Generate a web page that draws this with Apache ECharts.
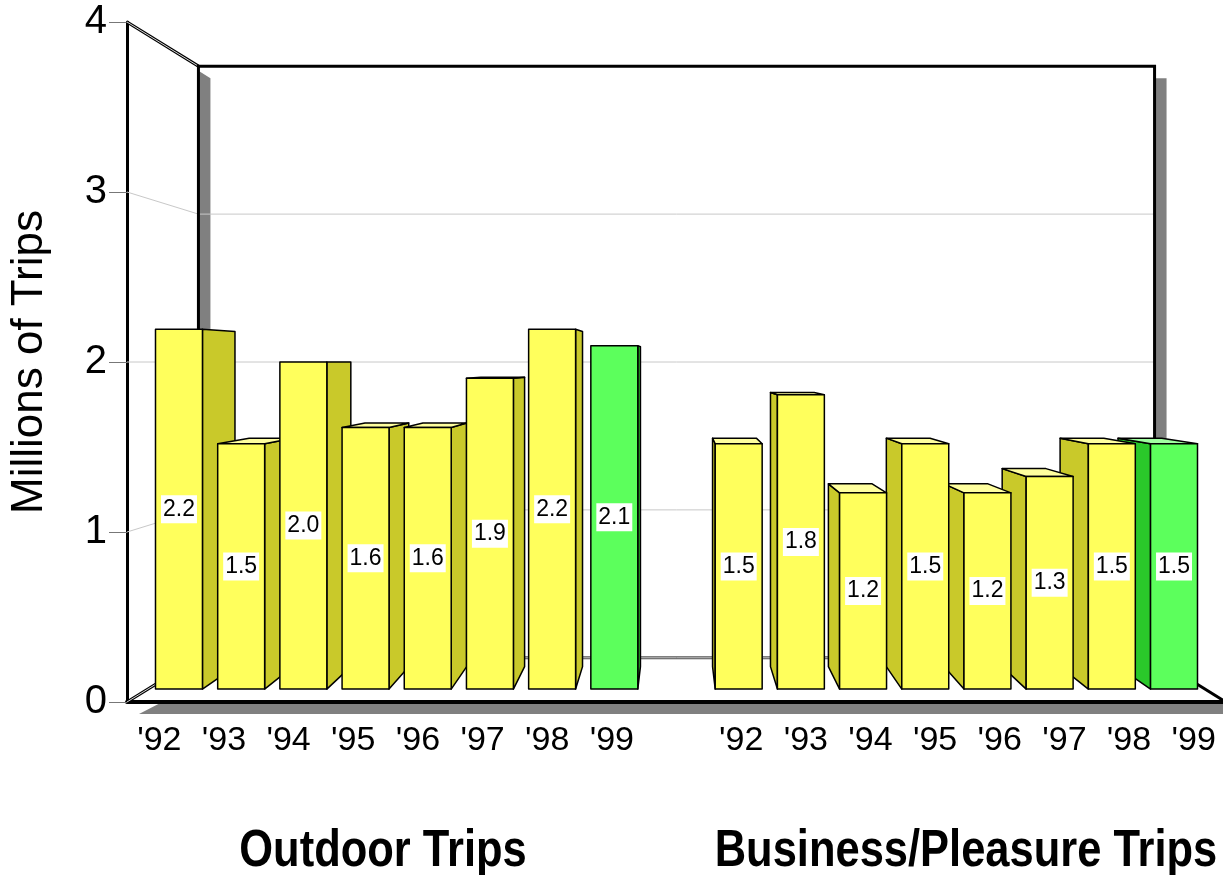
<!DOCTYPE html>
<html>
<head>
<meta charset="utf-8">
<script src="https://cdn.jsdelivr.net/npm/echarts@6/dist/echarts.min.js"></script>
<style>
  html, body { margin: 0; padding: 0; background: #ffffff; }
  #chart { width: 1223px; height: 875px; }
</style>
</head>
<body>
<div id="chart"></div>
<script>
// Years shown under each group of bars
const outdoorYears = ["'92", "'93", "'94", "'95", "'96", "'97", "'98", "'99"];
const businessYears = ["'92", "'93", "'94", "'95", "'96", "'97", "'98", "'99"];
// Trips, in millions
const outdoorTrips = [2.2, 1.5, 2.0, 1.6, 1.6, 1.9, 2.2, 2.1];
const businessTrips = [1.5, 1.8, 1.2, 1.5, 1.2, 1.3, 1.5, 1.5];
// Value axis ticks
const yTicks = [0, 1, 2, 3, 4];
// Year drawn in the highlight colour
const highlightYear = "'99";
const groupTitles = ['Outdoor Trips', 'Business/Pleasure Trips'];

// One empty slot separates the two groups
const categories = outdoorYears.concat([''], businessYears);
const businessOffset = outdoorYears.length + 1;

const barData = [];
outdoorYears.forEach((yr, i) => barData.push([i, outdoorTrips[i], yr === highlightYear ? 1 : 0]));
businessYears.forEach((yr, i) => barData.push([businessOffset + i, businessTrips[i], yr === highlightYear ? 1 : 0]));
// paint bars farthest from the centre first so nearer ones overlap their sides
const mid = (categories.length - 1) / 2;
barData.sort((a, b) => Math.abs(b[0] - mid) - Math.abs(a[0] - mid));

// depth of each plane, as a scale toward the vanishing point
const S_BAR_FRONT = 0.962;
const S_BAR_BACK = 0.896;
const S_WALL = 0.87;
const BAR_FRAC = 0.755;
const SHADOW = 12;

const palette = {
  0: { front: '#FFFF5C', side: '#C9C92A', top: '#FFFF9E' },
  1: { front: '#5CFF5C', side: '#2AC82A', top: '#A0FFA0' }
};

function vanishing(cs) {
  return [cs.x + cs.width / 2, cs.y + cs.height / 2];
}
function project(vp, X, Y, s) {
  return [vp[0] + s * (X - vp[0]), vp[1] + s * (Y - vp[1])];
}

function renderFrame(params, api) {
  const cs = params.coordSys;
  const vp = vanishing(cs);
  const FL = cs.x, FR = cs.x + cs.width, FT = cs.y, FB = cs.y + cs.height;
  const bTL = project(vp, FL, FT, S_WALL), bTR = project(vp, FR, FT, S_WALL);
  const bBL = project(vp, FL, FB, S_WALL), bBR = project(vp, FR, FB, S_WALL);
  const o = SHADOW;
  const kids = [];
  const gray = { fill: '#808080' };

  // drop shadows of the box
  const tL = (bTL[0] - FL - o) / (bTL[0] - FL);
  const yLeft = FT + o + tL * (bTL[1] - FT);
  kids.push({ type: 'polygon', shape: { points: [[bTL[0], yLeft], [bTL[0] + o, bTL[1] + o], [bTL[0] + o, bBL[1]], [bTL[0], bBL[1]]] }, style: gray });
  const yRight = bBR[1] + o * (FB - bBR[1]) / (FR - bBR[0]);
  kids.push({ type: 'polygon', shape: { points: [[bTR[0], bTR[1] + o], [bTR[0] + o, bTR[1] + o], [bTR[0] + o, yRight], [bTR[0], bBR[1]]] }, style: gray });
  const xBottom = FL + o + (o / (FB - bBL[1])) * (bBL[0] - FL);
  kids.push({ type: 'polygon', shape: { points: [[xBottom, FB + 2], [FR + o, FB + 2], [FR + o, FB + o], [FL + o, FB + o]] }, style: gray });

  // grid lines on the side and back walls
  yTicks.slice(1, -1).forEach(v => {
    const Y = api.coord([0, v])[1];
    const b0 = project(vp, FL, Y, S_WALL), b1 = project(vp, FR, Y, S_WALL);
    kids.push({ type: 'polyline', shape: { points: [[FL, Y], b0, b1] }, style: { stroke: '#c8c8c8', lineWidth: 1, fill: null } });
  });

  // floor back edge
  kids.push({ type: 'line', shape: { x1: bBL[0], y1: bBL[1], x2: bBR[0], y2: bBR[1] }, style: { stroke: '#555', lineWidth: 3 } });
  kids.push({ type: 'line', shape: { x1: bBL[0], y1: bBL[1], x2: bBR[0], y2: bBR[1] }, style: { stroke: '#c4c4c4', lineWidth: 1 } });
  // side wall edges (double lines)
  [[FL, FT, bTL], [FL, FB, bBL]].forEach(([x, y, b]) => {
    kids.push({ type: 'line', shape: { x1: x, y1: y, x2: b[0], y2: b[1] }, style: { stroke: '#000', lineWidth: 3.2 } });
    kids.push({ type: 'line', shape: { x1: x, y1: y, x2: b[0], y2: b[1] }, style: { stroke: '#d8d8d8', lineWidth: 1 } });
  });
  // back wall outline and floor right edge
  kids.push({ type: 'polyline', shape: { points: [bBL, bTL, bTR, bBR] }, style: { stroke: '#000', lineWidth: 3, fill: null } });
  kids.push({ type: 'line', shape: { x1: bBR[0], y1: bBR[1], x2: FR, y2: FB }, style: { stroke: '#000', lineWidth: 3 } });

  return { type: 'group', children: kids };
}

function renderBar(params, api) {
  const cs = params.coordSys;
  const vp = vanishing(cs);
  const c = api.value(0), v = api.value(1), hi = api.value(2);
  const col = palette[hi];
  const base = api.coord([c, 0]);
  const top = api.coord([c, v]);
  const bw = api.size([1, 0])[0] * BAR_FRAC;
  const xl = base[0] - bw / 2, xr = base[0] + bw / 2;
  const P = (X, Y, s) => project(vp, X, Y, s);
  const fTL = P(xl, top[1], S_BAR_FRONT), fTR = P(xr, top[1], S_BAR_FRONT);
  const fBL = P(xl, base[1], S_BAR_FRONT), fBR = P(xr, base[1], S_BAR_FRONT);
  const bTL = P(xl, top[1], S_BAR_BACK), bTR = P(xr, top[1], S_BAR_BACK);
  const bBL = P(xl, base[1], S_BAR_BACK), bBR = P(xr, base[1], S_BAR_BACK);
  const edge = { stroke: '#000', lineWidth: 1.5, lineJoin: 'round' };
  const kids = [];
  const side = base[0] < vp[0] ? [fTR, bTR, bBR, fBR] : [fTL, bTL, bBL, fBL];
  kids.push({ type: 'polygon', shape: { points: side }, style: Object.assign({ fill: col.side }, edge) });
  if (top[1] > vp[1]) {
    kids.push({ type: 'polygon', shape: { points: [fTL, fTR, bTR, bTL] }, style: Object.assign({ fill: col.top }, edge) });
  }
  kids.push({ type: 'polygon', shape: { points: [fTL, fTR, fBR, fBL] }, style: Object.assign({ fill: col.front }, edge) });
  kids.push({
    type: 'text',
    style: {
      text: v.toFixed(1),
      x: (fTL[0] + fTR[0]) / 2,
      y: (fTL[1] + fBL[1]) / 2,
      align: 'center',
      verticalAlign: 'middle',
      font: '23px "Liberation Sans", Arial, sans-serif',
      fill: '#000',
      backgroundColor: '#fff',
      padding: [3, 2, 2, 2]
    }
  });
  return { type: 'group', children: kids };
}

const chart = echarts.init(document.getElementById('chart'), null, { renderer: 'canvas' });
const font = '"Liberation Sans", Arial, sans-serif';

chart.setOption({
  backgroundColor: '#ffffff',
  animation: false,
  grid: { left: 127, right: -3, top: 22, bottom: 173, containLabel: false, outerBoundsMode: 'none' },
  xAxis: {
    type: 'category',
    data: categories,
    boundaryGap: true,
    axisLine: { lineStyle: { color: '#000', width: 4 } },
    axisTick: { show: false },
    axisLabel: { interval: 0, color: '#000', fontSize: 34, fontFamily: font, margin: 22 },
    splitLine: { show: false }
  },
  yAxis: {
    type: 'value',
    min: yTicks[0],
    max: yTicks[yTicks.length - 1],
    interval: 1,
    name: 'Millions of Trips',
    nameLocation: 'middle',
    nameRotate: 90,
    nameGap: 75,
    nameTextStyle: { color: '#000', fontSize: 44, fontFamily: font },
    axisLine: { show: true, lineStyle: { color: '#000', width: 3 } },
    axisTick: { show: true, length: 18, lineStyle: { color: '#777', width: 1 } },
    axisLabel: { color: '#000', fontSize: 40, fontFamily: font, margin: 20 },
    splitLine: { show: false }
  },
  series: [
    {
      type: 'custom',
      z: 1,
      renderItem: renderFrame,
      data: [[0, 0]],
      silent: true
    },
    {
      type: 'custom',
      z: 3,
      renderItem: renderBar,
      encode: { x: 0, y: 1 },
      data: barData,
      silent: true
    }
  ],
  graphic: [
    {
      type: 'text', x: 383, y: 852, scaleX: 0.836,
      style: { text: groupTitles[0], align: 'center', verticalAlign: 'middle', font: 'bold 52px ' + font, fill: '#000' }
    },
    {
      type: 'text', x: 966, y: 852, scaleX: 0.836,
      style: { text: groupTitles[1], align: 'center', verticalAlign: 'middle', font: 'bold 52px ' + font, fill: '#000' }
    }
  ]
});
</script>
</body>
</html>
